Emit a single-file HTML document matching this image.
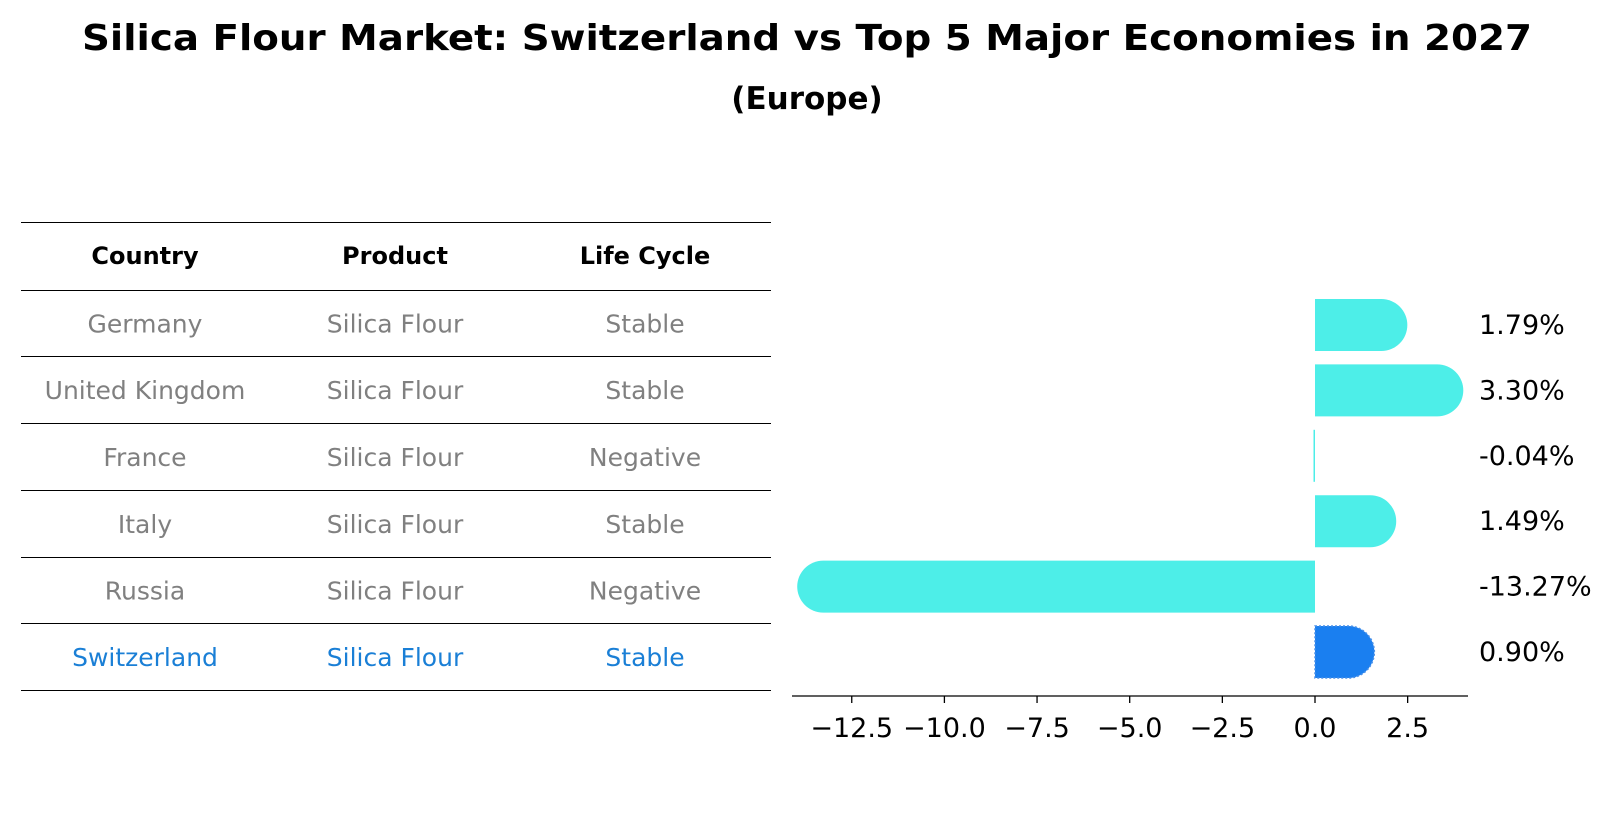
<!DOCTYPE html>
<html><head><meta charset="utf-8"><style>
html,body{margin:0;padding:0;background:#fff;}
svg{display:block;font-family:"DejaVu Sans","Liberation Sans",sans-serif;}
</style></head><body>
<svg id="chart" width="1614" height="823" viewBox="0 0 1614 823">
<text x="807" y="50" text-anchor="middle" font-size="36" font-weight="bold" textLength="1450" lengthAdjust="spacingAndGlyphs">Silica Flour Market: Switzerland vs Top 5 Major Economies in 2027</text>
<text x="807" y="109" text-anchor="middle" font-size="31" font-weight="bold">(Europe)</text>
<g id="table"></g>
<g id="bars"></g>
</svg>
<script>
const countries = ["Germany","United Kingdom","France","Italy","Russia","Switzerland"];
const products = ["Silica Flour","Silica Flour","Silica Flour","Silica Flour","Silica Flour","Silica Flour"];
const lifeCycles = ["Stable","Stable","Negative","Stable","Negative","Stable"];
const growthValues = [1.79, 3.30, -0.04, 1.49, -13.27, 0.90];
const growthLabels = ["1.79%","3.30%","-0.04%","1.49%","-13.27%","0.90%"];
const tickValues = [-12.5,-10.0,-7.5,-5.0,-2.5,0.0,2.5];
const tickLabels = ["\u221212.5","\u221210.0","\u22127.5","\u22125.0","\u22122.5","0.0","2.5"];

const NS = "http://www.w3.org/2000/svg";
function mk(tag, attrs, parent){const e=document.createElementNS(NS,tag);for(const k in attrs)e.setAttribute(k,attrs[k]);parent.appendChild(e);return e;}

const tbl = document.getElementById('table');
const lineYs = [222.5,290.5,356.5,423.5,490.5,557.5,623.5,690.5];
lineYs.forEach((y,i)=>{
  const l = mk('line',{x1:21,x2:771,y1:y,y2:y,stroke:'#000','stroke-width':1},tbl);
  
  
});
const colX=[145,395,645];
const heads=["Country","Product","Life Cycle"];
heads.forEach((h,i)=>{
  const t=mk('text',{x:colX[i],y:264,'text-anchor':'middle','font-size':24,'font-weight':'bold'},tbl);
  t.textContent=h;
  
  
});
countries.forEach((c,r)=>{
  const y=(lineYs[r+1]+lineYs[r+2])/2+9;
  const col = c==="Switzerland" ? '#1a7fd6' : '#808080';
  [c,products[r],lifeCycles[r]].forEach((v,i)=>{
    const t=mk('text',{x:colX[i],y:y,'text-anchor':'middle','font-size':25,fill:col},tbl);
    t.textContent=v;
    
    
  });
});

const g=document.getElementById('bars');
const x0=1315, ppu=37.06;
const xs=v=>x0+v*ppu;
const axisY=696, rowTop=325, rowStep=65.4, bh=52, rad=26;
const ax=mk('line',{x1:792,x2:1468,y1:axisY,y2:axisY,stroke:'#000','stroke-width':1.3},g);


tickValues.forEach((v,i)=>{
  const tk=mk('line',{x1:xs(v),x2:xs(v),y1:axisY,y2:axisY+7,stroke:'#000','stroke-width':1.3},g);
  
  
  const t=mk('text',{x:xs(v),y:737,'text-anchor':'middle','font-size':27},g);
  t.textContent=tickLabels[i];
  
  
});
growthValues.forEach((v,i)=>{
  const cy=rowTop+i*rowStep, top=cy-bh/2, bot=cy+bh/2;
  const xe=xs(v), sw=countries[i]==="Switzerland";
  const fill=sw?'#1a7ff0':'#4deee8';
  let d;
  if(v>=0){
    d=`M${x0},${top} L${xe},${top} A${rad},${rad} 0 0 1 ${xe},${bot} L${x0},${bot} Z`;
  } else {
    d=`M${x0},${top} L${xe},${top} A${rad},${rad} 0 0 0 ${xe},${bot} L${x0},${bot} Z`;
  }
  if(Math.abs(xe-x0)<3){ d=`M${x0-1.5},${top} L${x0},${top} L${x0},${bot} L${x0-1.5},${bot} Z`; }
  const p=mk('path',{d:d,fill:fill},g);
  if(sw){p.setAttribute('stroke','#4a90e8');p.setAttribute('stroke-dasharray','2,2');p.setAttribute('stroke-width','1.5');}
  
  
  const t=mk('text',{x:1479,y:cy+9,'font-size':27},g);
  t.textContent=growthLabels[i];
  
  
});
</script>
</body></html>
